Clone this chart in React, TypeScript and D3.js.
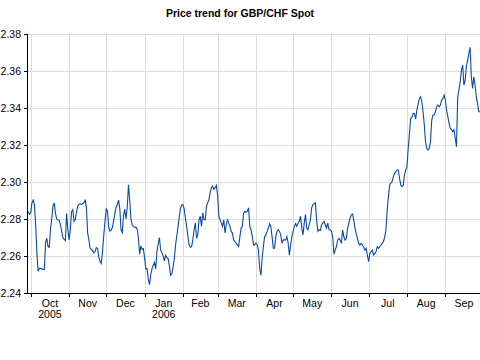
import { useEffect, useRef } from "react";
import * as d3 from "d3";

// GBP/CHF daily closes, one value per calendar day from startDate
const title = "Price trend for GBP/CHF Spot";
const startDate = new Date(2005, 8, 28);
const prices = [
  2.2833, 2.2840, 2.2825, 2.2833, 2.2887, 2.2902, 2.2878, 2.2770, 2.2615, 2.2518,
  2.2533, 2.2533, 2.2529, 2.2529, 2.2527, 2.2675, 2.2696, 2.2651, 2.2647, 2.2746,
  2.2800, 2.2869, 2.2887, 2.2830, 2.2800, 2.2796, 2.2793, 2.2770, 2.2735, 2.2700,
  2.2690, 2.2684, 2.2830, 2.2745, 2.2687, 2.2742, 2.2840, 2.2851, 2.2787, 2.2796,
  2.2840, 2.2870, 2.2880, 2.2882, 2.2878, 2.2884, 2.2887, 2.2905, 2.2860, 2.2724,
  2.2687, 2.2642, 2.2635, 2.2630, 2.2617, 2.2625, 2.2645, 2.2640, 2.2595, 2.2570,
  2.2560, 2.2620, 2.2710, 2.2787, 2.2855, 2.2845, 2.2755, 2.2735, 2.2740, 2.2755,
  2.2790, 2.2830, 2.2865, 2.2877, 2.2902, 2.2855, 2.2740, 2.2726, 2.2820, 2.2853,
  2.2800, 2.2865, 2.2985, 2.2900, 2.2800, 2.2765, 2.2760, 2.2755, 2.2757, 2.2745,
  2.2700, 2.2610, 2.2655, 2.2636, 2.2640, 2.2590, 2.2530, 2.2532, 2.2475, 2.2445,
  2.2500, 2.2530, 2.2550, 2.2566, 2.2530, 2.2625, 2.2665, 2.2700, 2.2630, 2.2617,
  2.2600, 2.2574, 2.2603, 2.2590, 2.2587, 2.2548, 2.2496, 2.2504, 2.2538, 2.2583,
  2.2657, 2.2708, 2.2755, 2.2810, 2.2858, 2.2876, 2.2878, 2.2855, 2.2805, 2.2760,
  2.2705, 2.2660, 2.2647, 2.2651, 2.2687, 2.2742, 2.2778, 2.2696, 2.2714, 2.2796,
  2.2815, 2.2760, 2.2833, 2.2796, 2.2796, 2.2869, 2.2887, 2.2905, 2.2942, 2.2969,
  2.2978, 2.2960, 2.2969, 2.2982, 2.2930, 2.2815, 2.2796, 2.2778, 2.2760, 2.2796,
  2.2724, 2.2769, 2.2796, 2.2778, 2.2760, 2.2733, 2.2724, 2.2687, 2.2678, 2.2669,
  2.2660, 2.2651, 2.2705, 2.2751, 2.2760, 2.2833, 2.2842, 2.2836, 2.2842, 2.2860,
  2.2760, 2.2742, 2.2705, 2.2660, 2.2660, 2.2669, 2.2660, 2.2633, 2.2533, 2.2496,
  2.2587, 2.2651, 2.2705, 2.2714, 2.2733, 2.2751, 2.2774, 2.2760, 2.2705, 2.2642,
  2.2642, 2.2705, 2.2733, 2.2742, 2.2733, 2.2714, 2.2669, 2.2687, 2.2687, 2.2687,
  2.2705, 2.2669, 2.2605, 2.2660, 2.2705, 2.2733, 2.2760, 2.2775, 2.2760, 2.2778,
  2.2787, 2.2815, 2.2751, 2.2714, 2.2778, 2.2824, 2.2751, 2.2742, 2.2769, 2.2796,
  2.2860, 2.2878, 2.2882, 2.2887, 2.2796, 2.2733, 2.2742, 2.2738, 2.2769, 2.2778,
  2.2787, 2.2769, 2.2751, 2.2778, 2.2742, 2.2742, 2.2733, 2.2705, 2.2610, 2.2633,
  2.2651, 2.2687, 2.2695, 2.2686, 2.2668, 2.2740, 2.2704, 2.2686, 2.2695, 2.2749,
  2.2777, 2.2804, 2.2822, 2.2827, 2.2795, 2.2749, 2.2722, 2.2695, 2.2668, 2.2659,
  2.2668, 2.2659, 2.2650, 2.2632, 2.2641, 2.2605, 2.2569, 2.2614, 2.2623, 2.2632,
  2.2605, 2.2614, 2.2623, 2.2650, 2.2641, 2.2650, 2.2659, 2.2668, 2.2677, 2.2704,
  2.2740, 2.2849, 2.2921, 2.2984, 2.2993, 2.3002, 2.3029, 2.3047, 2.3056, 2.3065,
  2.3065, 2.3020, 2.2984, 2.2975, 2.2984, 2.3038, 2.3065, 2.3083, 2.3182, 2.3263,
  2.3344, 2.3350, 2.3371, 2.3370, 2.3340, 2.3389, 2.3420, 2.3452, 2.3461, 2.3434,
  2.3380, 2.3308, 2.3218, 2.3182, 2.3173, 2.3182, 2.3218, 2.3335, 2.3362, 2.3362,
  2.3380, 2.3407, 2.3416, 2.3407, 2.3416, 2.3443, 2.3452, 2.3470, 2.3443, 2.3389,
  2.3353, 2.3317, 2.3290, 2.3285, 2.3272, 2.3281, 2.3236, 2.3191, 2.3461, 2.3497,
  2.3542, 2.3605, 2.3632, 2.3524, 2.3551, 2.3623, 2.3659, 2.3695, 2.3728, 2.3569,
  2.3506, 2.3569, 2.3524, 2.3461, 2.3425, 2.3380, 2.3380,
];
const yTicks = [2.24, 2.26, 2.28, 2.3, 2.32, 2.34, 2.36, 2.38];

function PriceChart() {
  const ref = useRef<SVGSVGElement>(null);
  const width = 480;
  const height = 360;
  const left = 27;
  const top = 34;
  const bottom = 293;
  const font = "'Liberation Sans', Arial, sans-serif";

  useEffect(() => {
    const svg = d3.select(ref.current);
    svg.selectAll("*").remove();

    const data = prices.map((v, i) => ({ date: d3.timeDay.offset(startDate, i), value: v }));
    const endDate = data[data.length - 1].date;

    const x = d3.scaleTime().domain([startDate, endDate]).range([left, width]);
    const y = d3.scaleLinear().domain([2.24, 2.38]).range([bottom, top]);

    const months = d3.timeMonth.range(d3.timeMonth.ceil(startDate), endDate);
    const px = (v: number) => Math.round(v) + 0.5;

    // grid
    const grid = svg.append("g").attr("stroke", "#dcdcdc").attr("shape-rendering", "crispEdges");
    grid
      .selectAll("line.h")
      .data(yTicks)
      .enter()
      .append("line")
      .attr("x1", left)
      .attr("x2", width)
      .attr("y1", (d) => px(y(d)))
      .attr("y2", (d) => px(y(d)));
    grid
      .selectAll("line.v")
      .data(months)
      .enter()
      .append("line")
      .attr("x1", (d) => px(x(d)))
      .attr("x2", (d) => px(x(d)))
      .attr("y1", top)
      .attr("y2", bottom);

    // price line
    const line = d3
      .line<{ date: Date; value: number }>()
      .x((d) => x(d.date))
      .y((d) => y(d.value));
    svg
      .append("path")
      .datum(data)
      .attr("d", line)
      .attr("fill", "none")
      .attr("stroke", "#0a4a9e")
      .attr("stroke-width", 1.1);

    // axes
    const axis = svg.append("g").attr("stroke", "#000").attr("shape-rendering", "crispEdges");
    axis.append("line").attr("x1", left + 0.5).attr("x2", left + 0.5).attr("y1", top).attr("y2", bottom + 1);
    axis.append("line").attr("x1", left).attr("x2", width).attr("y1", bottom + 0.5).attr("y2", bottom + 0.5);
    axis
      .selectAll("line.yt")
      .data(yTicks)
      .enter()
      .append("line")
      .attr("x1", left - 3)
      .attr("x2", left)
      .attr("y1", (d) => px(y(d)))
      .attr("y2", (d) => px(y(d)));
    axis
      .selectAll("line.xt")
      .data(months)
      .enter()
      .append("line")
      .attr("x1", (d) => px(x(d)))
      .attr("x2", (d) => px(x(d)))
      .attr("y1", bottom)
      .attr("y2", bottom + 4);

    const labels = svg.append("g").attr("font-family", font).attr("font-size", 10.5).attr("fill", "#000");
    labels
      .selectAll("text.y")
      .data(yTicks)
      .enter()
      .append("text")
      .attr("x", 21)
      .attr("y", (d) => y(d))
      .attr("dy", "0.36em")
      .attr("text-anchor", "end")
      .text((d) => d3.format(".2f")(d));

    const fmtMonth = d3.timeFormat("%b");
    labels
      .selectAll("text.m")
      .data(months)
      .enter()
      .append("text")
      .attr("x", (d) => (x(d) + x(d3.timeMonth.offset(d, 1))) / 2)
      .attr("y", 306.5)
      .attr("text-anchor", "middle")
      .text((d) => fmtMonth(d));
    labels
      .selectAll("text.yr")
      .data(months.filter((d, i) => i === 0 || d.getMonth() === 0))
      .enter()
      .append("text")
      .attr("x", (d) => (x(d) + x(d3.timeMonth.offset(d, 1))) / 2)
      .attr("y", 317.5)
      .attr("text-anchor", "middle")
      .text((d) => d3.timeFormat("%Y")(d));

    svg
      .append("text")
      .attr("x", 240)
      .attr("y", 17)
      .attr("text-anchor", "middle")
      .attr("font-family", font)
      .attr("font-size", 10.5)
      .attr("font-weight", "bold")
      .text(title);
  }, []);

  return (
    <svg
      ref={ref}
      width={width}
      height={height}
      style={{ position: "absolute", left: 0, top: 0, background: "#fff" }}
    />
  );
}

export default function App() {
  return <PriceChart />;
}
